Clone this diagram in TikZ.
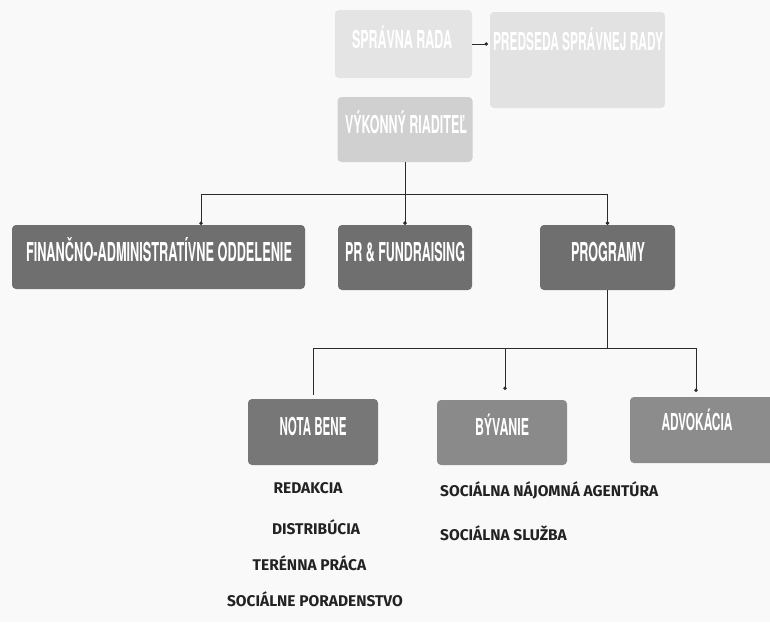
\documentclass[tikz,border=0pt]{standalone}
\usepackage{fontspec}
\usepackage{graphicx}
\setmainfont{TeX Gyre Heros}
\newfontfamily\subf{Fira Sans}
\usetikzlibrary{arrows.meta}
\definecolor{bgc}{HTML}{F9F9F9}
\definecolor{csr}{HTML}{E4E4E4}
\definecolor{cpred}{HTML}{E2E2E2}
\definecolor{cvr}{HTML}{D0D0D0}
\definecolor{cdark}{HTML}{6F6F6F}
\definecolor{cnb}{HTML}{777777}
\definecolor{cby}{HTML}{8A8A8A}
\definecolor{cadv}{HTML}{8C8C8C}
\definecolor{cline}{HTML}{2B2B2B}
\definecolor{ctxt}{HTML}{222222}
\newcommand\fitlbl[3]{\resizebox{#1}{#2}{\raisebox{0pt}[\fontcharht\font`E][0pt]{#3}}}
\begin{document}
\begin{tikzpicture}[x=1pt,y=-1pt,
  box/.style={rounded corners=4pt, inner sep=0pt, draw=none},
  lbl/.style={inner sep=0pt, text=white, font=\bfseries\fontsize{24}{24}\selectfont},
  sub/.style={inner sep=0pt, text=ctxt, font=\subf\bfseries\fontsize{15.5}{16}\selectfont},
  conn/.style={draw=cline, line width=1pt},
  dot/.style={-{Circle[length=3.5pt]}}]
\useasboundingbox (0,0) rectangle (770,622);
\clip (0,0) rectangle (770,622);
\fill[bgc] (0,0) rectangle (770,622);

% boxes
\node[box, fill=csr, minimum width=137pt, minimum height=68pt] (sr) at (403.5,44) {};
\node[box, fill=cpred, minimum width=175pt, minimum height=96pt] (pred) at (577.5,60) {};
\node[box, fill=cvr, minimum width=135pt, minimum height=65pt] (vr) at (405,129.5) {};
\node[box, fill=cdark, minimum width=293pt, minimum height=64pt] (fin) at (158.5,257) {};
\node[box, fill=cdark, minimum width=134pt, minimum height=65pt] (pr) at (405,257.5) {};
\node[box, fill=cdark, minimum width=135pt, minimum height=65pt] (prog) at (607.5,257.5) {};
\node[box, fill=cnb, minimum width=130pt, minimum height=66pt] (nb) at (313,432) {};
\node[box, fill=cby, minimum width=130pt, minimum height=65pt] (by) at (502,432.5) {};
\node[box, fill=cadv, minimum width=150pt, minimum height=66pt] (adv) at (705,430) {};

% labels
\node[lbl] (srl) at (402,39) {\fitlbl{100pt}{18pt}{SPRÁVNA RADA}};
\node[lbl] (predl) at (578,41) {\fitlbl{170pt}{18pt}{PREDSEDA SPRÁVNEJ RADY}};
\node[lbl] (vrl) at (406,124) {\fitlbl{122pt}{18pt}{VÝKONNÝ RIADITEĽ}};
\node[lbl] (finl) at (159,251.5) {\fitlbl{266pt}{19pt}{FINANČNO-ADMINISTRATÍVNE ODDELENIE}};
\node[lbl] (prl) at (405,251.5) {\fitlbl{120pt}{19pt}{PR \& FUNDRAISING}};
\node[lbl] (progl) at (608,251.5) {\fitlbl{74pt}{19pt}{PROGRAMY}};
\node[lbl] (nbl) at (313,426) {\fitlbl{67pt}{18pt}{NOTA BENE}};
\node[lbl] (byl) at (502,427) {\fitlbl{54pt}{17pt}{BÝVANIE}};
\node[lbl] (advl) at (697,422) {\fitlbl{71pt}{17pt}{ADVOKÁCIA}};

% sub items
\node[sub] (s1) at (308,488) {REDAKCIA};
\node[sub] (s2) at (316,527) {DISTRIBÚCIA};
\node[sub] (s3) at (309.5,563) {TERÉNNA PRÁCA};
\node[sub] (s4) at (315,599) {SOCIÁLNE PORADENSTVO};
\node[sub, anchor=west] (s5) at (440,490) {SOCIÁLNA NÁJOMNÁ AGENTÚRA};
\node[sub, anchor=west] (s6) at (440,533) {SOCIÁLNA SLUŽBA};

% connectors
\coordinate (predIn) at (488,44);
\draw[conn, dot] (sr.east) -- (predIn);

\coordinate (bus1) at (405,194);
\coordinate (finT) at (201,225);
\draw[conn] (vr.south) -- (bus1);
\draw[conn, dot] (bus1) -| (finT);
\draw[conn, dot] (bus1) -- (pr.north);
\draw[conn, dot] (bus1) -| (prog.north);

\coordinate (bus2) at (607.5,348);
\coordinate (nbT) at (313,395);
\coordinate (byT) at (505,390);
\coordinate (advT) at (696,392);
\draw[conn] (prog.south) -- (bus2);
\draw[conn] (bus2) -| (nbT);
\draw[conn, dot] (bus2) -| (byT);
\draw[conn, dot] (bus2) -| (advT);
\end{tikzpicture}
\end{document}
